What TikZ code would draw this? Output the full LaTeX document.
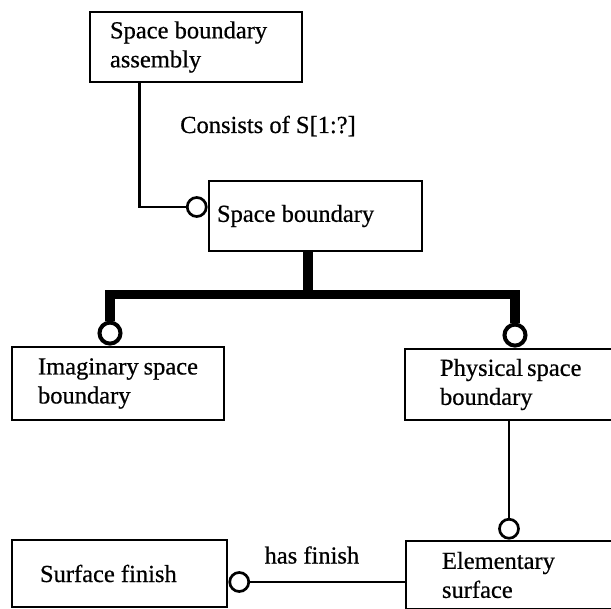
\documentclass[tikz,border=0pt]{standalone}
\usepackage{fontspec}
\setmainfont[FakeBold=0.6]{Liberation Serif}
\usetikzlibrary{positioning}

\tikzset{
  entity/.style={draw, line width=2.8pt, align=flush left, inner ysep=0pt},
  rel/.style={line width=2.4pt},
  bus/.style={line width=9.5pt, line join=miter},
  opt/.style={circle, draw, fill=white, line width=2.7pt, minimum size=19pt, inner sep=0pt},
  optthick/.style={circle, draw, fill=white, line width=4pt, minimum size=21pt, inner sep=0pt},
  lbl/.style={inner sep=0pt}
}

\begin{document}
\begin{tikzpicture}[x=1pt, y=-1pt,
    every node/.append style={font=\fontsize{24.5}{29}\selectfont}]

      \useasboundingbox (0,0) rectangle (611,609);

      % Define nodes
	  \node[entity, inner xsep=20pt, text width=172pt, minimum height=70pt] (asm) at (196,47) {Space~boundary\\assembly};
	  \node[entity, inner xsep=8pt, text width=197pt, minimum height=70pt]  (sb) at (315.5,216) {Space~boundary};
	  \node[entity, inner xsep=26pt, text width=160pt, minimum height=73pt] (img) at (118,383.5) {Imaginary~space\\boundary};
	  \node[entity, inner xsep=35pt, text width=140pt, minimum height=71pt] (phys) at (510,384.5) {Physical~space\\boundary};
	  \node[entity, inner xsep=28pt, text width=159pt, minimum height=67pt] (sf) at (119.5,573.5) {Surface~finish};
	  \node[entity, inner xsep=36pt, text width=138pt, minimum height=68pt] (elem) at (511,575) {Elementary\\surface};
	  \node[lbl, anchor=base west]                 (card) at (180,133) {Consists of S[1:?]};

	  \node[opt, left=0pt of sb.west, yshift=9pt]          (c1) {};
	  \node[optthick, above=0pt of img.north, xshift=-8pt] (ci) {};
	  \node[optthick, above=0pt of phys.north, xshift=5pt] (cp) {};
	  \node[opt, above=0pt of elem.north, xshift=-2pt]     (c3) {};
	  \node[opt, right=0pt of sf.east, yshift=-8.5pt]      (c4) {};
	  \coordinate (bus) at ([xshift=-7.5pt, yshift=-42pt]sb.south);

	  % Connect the nodes
	  \draw[rel] ([xshift=51pt]asm.south west) |- (c1.west);
	  \draw[bus] ([xshift=-7.5pt]sb.south) -- (bus);
	  \draw[bus] (ci.north) |- (bus) -| (cp.north);
	  \draw[rel] (c3.north) -- (c3.north |- phys.south);
	  \draw[rel] (c4.east) -- (c4.east -| elem.west)
	    node[lbl, pos=0.4, above=17pt] (fin) {has finish};

	\end{tikzpicture}
\end{document}
